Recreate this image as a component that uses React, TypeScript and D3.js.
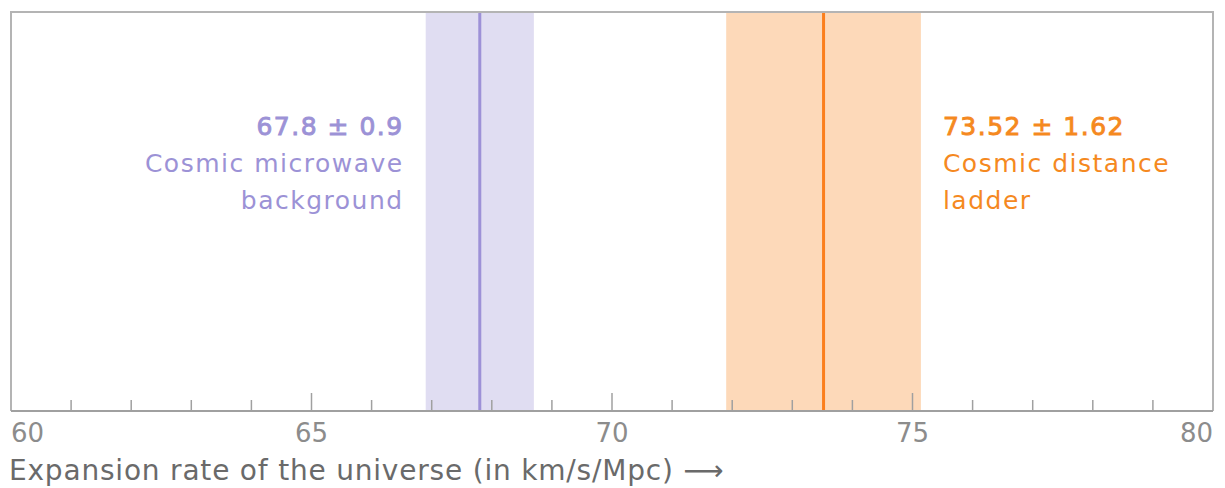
import React, { useEffect, useRef } from 'react';
import * as d3 from 'd3';

const domainMin = 60;
const domainMax = 80;
const tickValues = [61, 62, 63, 64, 65, 66, 67, 68, 69, 70, 71, 72, 73, 74, 75, 76, 77, 78, 79];
const majorTicks = [60, 65, 70, 75, 80];

const measureNames = ['cmb', 'ladder'];
const measureValues = [67.8, 73.52];
const measureErrors = [0.9, 1.62];
const measureLabels = [
  ['67.8 ± 0.9', 'Cosmic microwave', 'background'],
  ['73.52 ± 1.62', 'Cosmic distance', 'ladder'],
];
const measureColors = ['#9d91d7', '#fb7f1d'];
const bandColors = ['#e0ddf2', '#fdd9b9'];
const textColors = ['#9c92d6', '#f5891f'];

const axisTitle = 'Expansion rate of the universe (in km/s/Mpc) \u27F6';

const FONT = '"DejaVu Sans", sans-serif';

function App() {
  const ref = useRef<SVGSVGElement | null>(null);

  useEffect(() => {
    const width = 1225;
    const height = 488;
    const margin = { top: 12, right: 12, bottom: 77, left: 11 };
    const innerW = width - margin.left - margin.right;
    const innerH = height - margin.top - margin.bottom;

    const svg = d3.select(ref.current);
    svg.selectAll('*').remove();

    const x = d3.scaleLinear().domain([domainMin, domainMax]).range([0, innerW]);

    const g = svg.append('g').attr('transform', `translate(${margin.left}, ${margin.top})`);

    // uncertainty bands
    g.selectAll('rect.band')
      .data(measureNames)
      .enter()
      .append('rect')
      .attr('class', 'band')
      .attr('x', (_d, i) => x(measureValues[i] - measureErrors[i]))
      .attr('width', (_d, i) => x(measureValues[i] + measureErrors[i]) - x(measureValues[i] - measureErrors[i]))
      .attr('y', 0)
      .attr('height', innerH)
      .attr('fill', (_d, i) => bandColors[i]);

    // central values
    g.selectAll('line.mean')
      .data(measureNames)
      .enter()
      .append('line')
      .attr('class', 'mean')
      .attr('x1', (_d, i) => x(measureValues[i]))
      .attr('x2', (_d, i) => x(measureValues[i]))
      .attr('y1', 0)
      .attr('y2', innerH)
      .attr('stroke', (_d, i) => measureColors[i])
      .attr('stroke-width', 3);

    // frame
    g.append('path')
      .attr('d', `M0,${innerH}V0H${innerW}V${innerH}`)
      .attr('fill', 'none')
      .attr('stroke', '#b4b4b4')
      .attr('stroke-width', 2);

    // axis
    const axis = g.append('g').attr('transform', `translate(0, ${innerH})`);
    axis.append('line')
      .attr('x1', 0)
      .attr('x2', innerW)
      .attr('stroke', '#a0a0a0')
      .attr('stroke-width', 2);

    axis.selectAll('line.tick')
      .data(tickValues)
      .enter()
      .append('line')
      .attr('class', 'tick')
      .attr('x1', d => x(d))
      .attr('x2', d => x(d))
      .attr('y1', 0)
      .attr('y2', d => (majorTicks.includes(d) ? -18 : -11))
      .attr('stroke', '#a0a0a0')
      .attr('stroke-width', 1.5);

    axis.selectAll('text.tick-label')
      .data(majorTicks)
      .enter()
      .append('text')
      .attr('class', 'tick-label')
      .attr('x', d => x(d))
      .attr('y', 31)
      .attr('text-anchor', (_d, i) => (i === 0 ? 'start' : i === majorTicks.length - 1 ? 'end' : 'middle'))
      .attr('font-family', FONT)
      .attr('font-size', 26)
      .attr('fill', '#8c8c8c')
      .text(d => d);

    svg.append('text')
      .attr('x', 9)
      .attr('y', 480)
      .attr('font-family', FONT)
      .attr('font-size', 28)
      .attr('letter-spacing', 0.8)
      .attr('fill', '#6a6a6a')
      .text(axisTitle);

    // annotations
    measureNames.forEach((_name, i) => {
      const left = i === 0;
      const tx = left
        ? x(measureValues[i] - measureErrors[i]) - 22
        : x(measureValues[i] + measureErrors[i]) + 22;
      const label = g.append('text')
        .attr('x', tx)
        .attr('y', 123)
        .attr('text-anchor', left ? 'end' : 'start')
        .attr('font-family', FONT)
        .attr('font-size', 25)
        .attr('letter-spacing', 1.5)
        .attr('fill', textColors[i]);
      measureLabels[i].forEach((line, j) => {
        label.append('tspan')
          .attr('x', tx)
          .attr('dy', j === 0 ? 0 : 37)
          .attr('stroke', j === 0 ? textColors[i] : 'none')
          .attr('stroke-width', j === 0 ? 0.9 : 0)
          .text(line);
      });
    });
  }, []);

  return (
    <div style={{ position: 'absolute', left: 0, top: 0 }}>
      <svg ref={ref} width={1225} height={488} style={{ display: 'block', background: '#fff' }} />
    </div>
  );
}

export default App;
